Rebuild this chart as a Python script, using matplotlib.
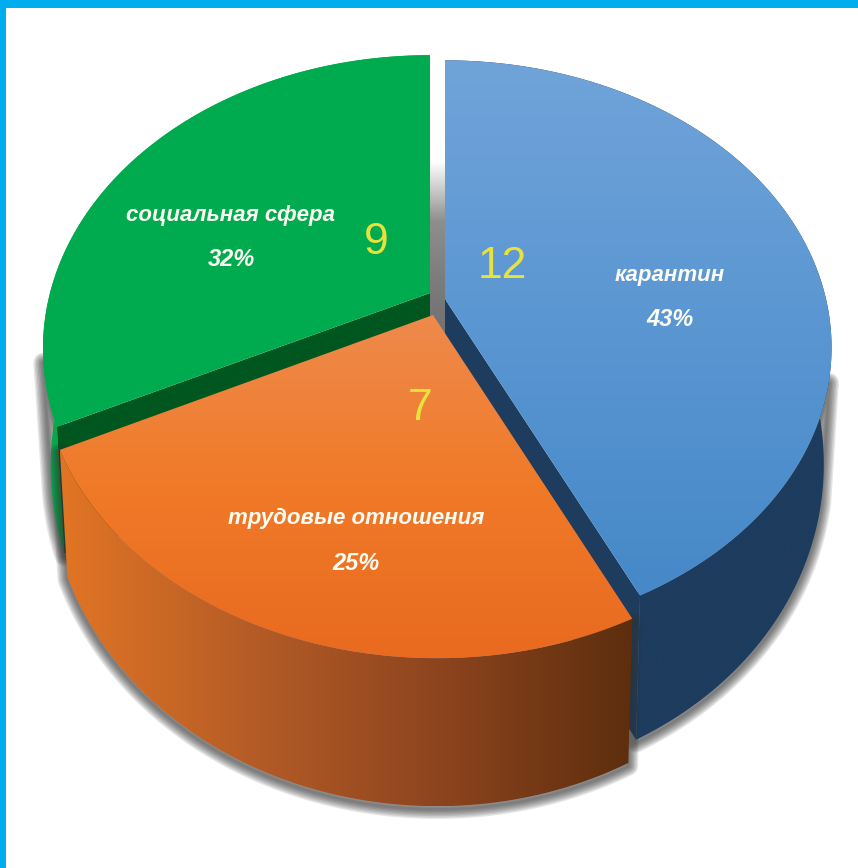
import numpy as np
import matplotlib
matplotlib.use("Agg")
import matplotlib.pyplot as plt
from matplotlib.patches import Polygon, Rectangle
from matplotlib.colors import LinearSegmentedColormap

# данные
labels = ["карантин", "трудовые отношения", "социальная сфера"]
counts = [12, 7, 9]
percents = ["43%", "25%", "32%"]

# геометрия секторов (пиксели картинки)
apex_x = [445, 433, 430]
apex_y = [299, 315, 293]
radius_x = [381, 388, 380]
radius_y = [279, 290, 283]
persp = [0.169, 0.155, 0.19]
skew = [0.0, 0.012, 0.0]

top_grad = [["#70A4D9", "#5A96D2", "#4688C8"],
            ["#EE8A4C", "#F07A28", "#E96A20"],
            ["#00AB4F", "#00AB4F", "#00AB4F"]]
wall_grad = [["#1D3C5E", "#1D3C5E"],
             ["#E27524", "#B55C27", "#8C441E", "#5D2E0E"],
             ["#0AA64C", "#0AA64C"]]
side_col = ["#1D3C5E", "#8C441E", "#00561F"]

W, H = 858, 868
plt.rcParams["font.family"] = ["Liberation Sans", "DejaVu Sans"]

fig = plt.figure(figsize=(W / 100, H / 100), dpi=100, facecolor="white")
ax = fig.add_axes([0, 0, 1, 1])


def arc(i, t1, t2, n=160):
    t = np.radians(np.linspace(t1, t2, n))
    u, v = np.sin(t), np.cos(t)
    w = 1 + persp[i] * v
    dx = radius_x[i] * u / w
    dy = -radius_y[i] * v / w
    return dx + skew[i] * dy, dy, v


def top_arc(i, t1, t2):
    dx, dy, v = arc(i, t1, t2)
    return apex_x[i] + dx, apex_y[i] + dy


def bottom_arc(i, t1, t2):
    dx, dy, v = arc(i, t1, t2)
    return apex_x[i] + 0.98 * dx, apex_y[i] + dy + 110 - 38 * v


def grad_fill(poly, colors, horizontal=False, z=2):
    cmap = LinearSegmentedColormap.from_list("g", colors)
    xs, ys = poly.get_xy()[:, 0], poly.get_xy()[:, 1]
    g = np.linspace(0, 1, 256)
    g = g[None, :] if horizontal else g[:, None]
    im = ax.imshow(g, cmap=cmap, aspect="auto", zorder=z, interpolation="bilinear",
                   extent=(xs.min(), xs.max(), ys.max(), ys.min()))
    poly.set(facecolor="none", edgecolor="none", zorder=z)
    ax.add_patch(poly)
    im.set_clip_path(poly)


total = sum(counts)
ends = np.cumsum(counts) / total * 360
starts = np.r_[0, ends[:-1]]

# рамка
ax.add_patch(Rectangle((0, 0), W, 8, fc="#00AEEF", ec="none", zorder=60))
ax.add_patch(Rectangle((0, 0), 6, H, fc="#00AEEF", ec="none", zorder=60))

# серая тень в щели
grey = np.linspace(0, 1, 64)[:, None]
ax.imshow(grey, cmap=LinearSegmentedColormap.from_list("s", ["#FFFFFF", "#8E8E8E", "#7C7C7C", "#707070"]),
          aspect="auto", extent=(430, 446, 342, 160), zorder=1)

# рисуем: зелёный, синий, оранжевый
z = 2
for i in [2, 0, 1]:
    t1, t2 = starts[i], ends[i]
    tx, ty = top_arc(i, t1, t2)
    bx, by = bottom_arc(i, t1, t2)
    shell = np.c_[np.r_[tx, bx[::-1]], np.r_[ty, by[::-1]]]

    # тень только снизу
    s1, s2 = max(t1, 106), min(t2, 257)
    sx, sy = top_arc(i, s1, s2)
    ux, uy = bottom_arc(i, s1, s2)
    under = np.c_[np.r_[sx, ux[::-1]], np.r_[sy, uy[::-1]]]
    for lw in range(14, 0, -2):
        ax.add_patch(Polygon(under + [0, 3], closed=True, fc="none", ec="#333333", lw=lw,
                             alpha=0.13, joinstyle="round", zorder=z))
    z += 1

    # боковая грань у центра
    if i == 0:
        pts = [(apex_x[i], apex_y[i]), (tx[-1], ty[-1]), (bx[-1], by[-1]), (apex_x[i], apex_y[i] + 140)]
        ax.add_patch(Polygon(pts, closed=True, fc=side_col[i], ec="none", zorder=z))
    if i == 2:
        pts = [(apex_x[i], apex_y[i]), (tx[0], ty[0]), (bx[0], by[0]), (apex_x[i], apex_y[i] + 140)]
        ax.add_patch(Polygon(pts, closed=True, fc=side_col[i], ec="none", zorder=z))
    z += 1

    # внешняя стенка
    grad_fill(Polygon(shell, closed=True), wall_grad[i], horizontal=True, z=z)
    z += 1

    # верхняя грань
    top = np.c_[np.r_[apex_x[i], tx], np.r_[apex_y[i], ty]]
    grad_fill(Polygon(top, closed=True), top_grad[i], z=z)
    z += 1

# подписи
txt_kw = dict(color="#FBFBF2", style="italic", weight="bold", ha="center", va="center", zorder=70)
ax.text(670, 276, labels[0], fontsize=16, **txt_kw)
ax.text(670, 320, percents[0], fontsize=17, **txt_kw)
ax.text(356, 518, labels[1], fontsize=16, **txt_kw)
ax.text(356, 563, percents[1], fontsize=17, **txt_kw)
ax.text(231, 215, labels[2], fontsize=16, **txt_kw)
ax.text(231, 260, percents[2], fontsize=17, **txt_kw)

num_kw = dict(color="#E9E23C", ha="center", va="center", fontsize=32, zorder=70)
ax.text(502, 267, str(counts[0]), **num_kw)
ax.text(420, 408, str(counts[1]), **num_kw)
ax.text(376, 242, str(counts[2]), **num_kw)

ax.set_xlim(0, W)
ax.set_ylim(H, 0)
ax.axis("off")

fig.savefig("out.png", dpi=100)
